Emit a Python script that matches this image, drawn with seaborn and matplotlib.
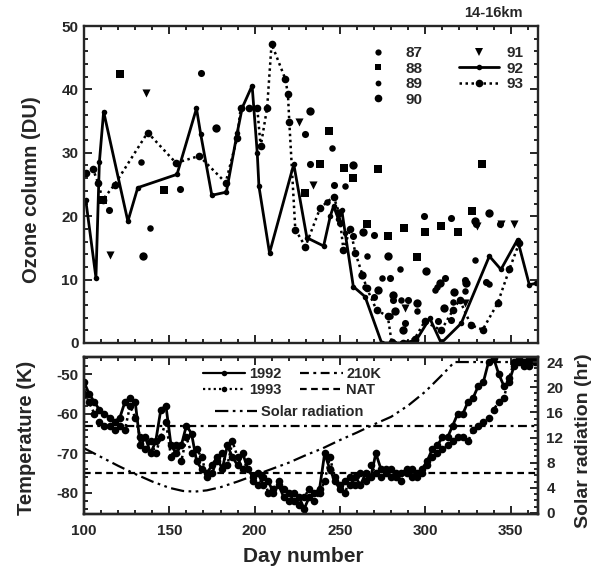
import matplotlib
matplotlib.use("Agg")
import matplotlib.pyplot as plt
from matplotlib.lines import Line2D
from matplotlib.ticker import MultipleLocator, FixedLocator
import seaborn as sns

# ---------------- Top panel: ozone column 14-16 km ----------------
day_92 = [101, 107, 109, 111.5, 125.7, 131.5, 154.5, 165.9, 168.4, 174.9,
          183.4, 189.8, 192.7, 198.5, 201.5, 202.5, 208.7, 222.9, 230.6, 240.4,
          244.3, 246.2, 249.1, 251, 253, 257.8, 264.7, 274.4, 288, 294.8,
          302.6, 309.3, 321, 337.5, 344.3, 354, 360.9, 364.7]
o3_92 = [22.6, 10.3, 28.5, 36.5, 19.2, 24.5, 26.6, 37.0, 32.9, 23.3,
         23.8, 33.2, 37.1, 40.6, 30.0, 24.7, 14.2, 28.2, 16.6, 15.3,
         20.0, 21.6, 19.5, 21.0, 17.4, 8.9, 7.3, 0.0, 0.0, 0.5,
         3.9, 0.0, 3.1, 13.7, 11.6, 16.3, 9.2, 9.4]

day_93 = [101.4, 105.3, 108.2, 111, 118, 137.3, 153.9, 167.5, 183, 189.8,
          191.8, 196.6, 201.5, 203.5, 207.3, 209.9, 218, 219.5, 220.3, 223.8,
          229.7, 238.4, 246.2, 249.5, 252, 256, 259, 265.6, 271.4, 278,
          280.2, 287, 293.8, 299.6, 309.3, 316.2, 320.1, 326.8, 333.6, 342.4,
          349.2, 355]
o3_93 = [26.8, 27.4, 25.3, 22.6, 25.0, 33.2, 28.4, 29.5, 25.3, 32.4,
         37.1, 37.1, 37.1, 31.0, 37.1, 47.2, 41.6, 39.2, 34.8, 17.9,
         15.2, 21.3, 23.1, 20.5, 14.7, 18.0, 14.2, 8.7, 5.2, 4.2,
         0.2, 0.0, 0.7, 3.4, 2.0, 5.2, 6.8, 2.8, 2.1, 6.3,
         11.6, 15.8]

day_87 = [114.4, 156.2, 168.8, 229.7, 232.2, 246.2, 250, 257.8, 270, 270,
          279.2, 281.2, 288, 290, 299.3, 307.4, 311.3, 315.2, 315.2, 323,
          329.5, 335.6, 344]
o3_87 = [21.0, 24.3, 42.6, 33.0, 28.3, 24.9, 18.9, 16.8, 17.0, 7.3,
         10.2, 6.8, 3.1, 6.8, 20.0, 3.4, 10.2, 19.7, 3.6, 10.0,
         18.7, 9.7, 18.7]

day_88 = [111, 120.8, 146.7, 229.7, 238.4, 243.7, 252.6, 257.8, 266, 272.4,
          278.3, 287.2, 295.2, 300, 309, 319, 327.2, 333.2]
o3_88 = [22.6, 42.4, 24.1, 23.6, 28.3, 33.4, 27.6, 26.0, 18.8, 27.4,
         16.8, 18.2, 13.5, 17.5, 18.4, 17.5, 20.8, 28.2]

day_89 = [133.5, 138.7, 242.3, 245.2, 252, 253, 264.7, 265.6, 274.4, 279.2,
          285, 286, 295, 305.5, 307, 316, 323, 328.8, 337]
o3_89 = [28.5, 18.2, 22.2, 30.8, 14.6, 24.7, 8.9, 13.8, 10.2, 4.2,
         11.6, 6.8, 5.0, 8.4, 8.9, 6.5, 8.2, 13.1, 9.3]

day_90 = [134.4, 177.6, 232.6, 257.8, 262.7, 263.7, 272.4, 278.3, 281, 282.2,
          287, 295, 300.6, 308.4, 311, 317, 324, 328.8, 337.1]
o3_90 = [13.8, 33.9, 36.6, 28.0, 10.8, 17.5, 8.4, 13.7, 7.6, 5.0,
         2.1, 6.3, 11.4, 9.4, 5.5, 8.0, 9.5, 19.2, 20.5]

day_91 = [115, 136.4, 225.8, 234, 249, 288, 323, 330, 344.4, 352.1]
o3_91 = [13.9, 39.5, 34.8, 25.0, 20.5, 5.5, 6.3, 18.5, 18.7, 18.7]

top_labels = ["87", "88", "89", "90", "91", "92", "93"]

# ---------------- Bottom panel: temperature & solar radiation ----------------
temp_day = [100, 103, 106, 109, 112, 115, 118, 121, 124, 127,
            130, 133, 136, 139, 142, 145, 148, 151, 154, 157,
            160, 163, 166, 169, 172, 175, 178, 181, 184, 187,
            190, 193, 196, 199, 202, 205, 208, 211, 214, 217,
            220, 223, 226, 229, 232, 235, 238, 241, 244, 247,
            250, 253, 256, 259, 262, 265, 268, 271, 274, 277,
            280, 283, 286, 289, 292, 295, 298, 301, 304, 307,
            310, 313, 316, 319, 322, 325, 328, 331, 334, 337,
            340, 343, 346, 349, 352, 355, 358, 361, 364]
temp_1992 = [-52, -55, -57, -59, -60, -61, -62, -61, -57, -56,
             -57, -68, -66, -70, -67, -59, -58, -68, -70, -68,
             -63, -65, -72, -74, -75, -73, -71, -74, -68, -71,
             -73, -70, -74, -76, -75, -78, -77, -80, -78, -81,
             -80, -82, -81, -84, -81, -80, -79, -70, -74, -77,
             -79, -77, -78, -76, -78, -75, -76, -70, -74, -75,
             -74, -76, -75, -74, -76, -75, -74, -72, -69, -68,
             -66, -66, -63, -60, -60, -57, -56, -53, -52, -47,
             -46, -50, -53, -52, -48, -47, -48, -46, -47]
temp_1993 = [-55, -57, -60, -62, -63, -63, -64, -63, -64, -58,
             -61, -66, -69, -67, -70, -66, -62, -71, -68, -72,
             -66, -70, -69, -71, -76, -75, -72, -70, -73, -67,
             -71, -74, -72, -77, -78, -76, -80, -79, -77, -79,
             -82, -80, -83, -81, -79, -82, -80, -77, -71, -76,
             -78, -80, -76, -78, -75, -77, -73, -75, -76, -74,
             -76, -75, -77, -75, -74, -76, -75, -73, -71, -70,
             -69, -68, -67, -66, -66, -67, -64, -63, -62, -61,
             -59, -57, -56, -51, -47, -46, -47, -48, -46]

solar_day = [100, 110, 120, 130, 140, 150, 158, 165, 172, 180,
             190, 200, 210, 220, 230, 240, 250, 260, 270, 280,
             290, 300, 310, 317, 330, 345, 366]
solar_hr = [10.3, 8.9, 7.5, 6.2, 5.0, 4.0, 3.5, 3.4, 3.6, 4.1,
            5.0, 6.0, 7.0, 8.0, 9.2, 10.3, 11.6, 12.8, 14.1, 15.3,
            17.1, 19.3, 22.0, 24.0, 24.0, 24.0, 24.0]

T_210K = -63.15
T_NAT = -75.0
bottom_labels = ["1992", "1993", "210K", "NAT", "Solar radiation"]

# ---------------- Styling ----------------
sns.set_style("ticks")
plt.rcParams["font.family"] = ["Liberation Sans", "DejaVu Sans"]
plt.rcParams["font.weight"] = "bold"
plt.rcParams["axes.unicode_minus"] = False
plt.rcParams["axes.linewidth"] = 1.7

K = "black"
W, H = 603, 572
fig = plt.figure(figsize=(W / 100, H / 100), dpi=100)
fig.patch.set_facecolor("white")

L, R = 84, 538
ax1 = fig.add_axes([L / W, 1 - 343 / H, (R - L) / W, (343 - 26) / H])
ax2 = fig.add_axes([L / W, 1 - 514 / H, (R - L) / W, (514 - 357) / H])
ax3 = ax2.twinx()

DOT = (0, (1, 1.4))
DASHDOT = (0, (4, 2, 1.3, 2))
DASHED = (0, (3, 2))
SOLAR = (0, (6, 2, 1.2, 2, 1.2, 2))

# --- top panel ---
sns.lineplot(x=day_92, y=o3_92, ax=ax1, color=K, linewidth=2.0, marker="o",
             markersize=4, markeredgewidth=0, markeredgecolor=K,
             estimator=None, sort=False, legend=False)
sns.lineplot(x=day_93, y=o3_93, ax=ax1, color=K, linewidth=1.8, linestyle=DOT,
             marker="o", markersize=5.5, markeredgewidth=0, markeredgecolor=K,
             estimator=None, sort=False, legend=False)
sns.scatterplot(x=day_87, y=o3_87, ax=ax1, color=K, marker="o", s=26, linewidth=0, legend=False)
sns.scatterplot(x=day_88, y=o3_88, ax=ax1, color=K, marker="s", s=30, linewidth=0, legend=False)
sns.scatterplot(x=day_89, y=o3_89, ax=ax1, color=K, marker="o", s=22, linewidth=0, legend=False)
sns.scatterplot(x=day_90, y=o3_90, ax=ax1, color=K, marker="o", s=36, linewidth=0, legend=False)
sns.scatterplot(x=day_91, y=o3_91, ax=ax1, color=K, marker="v", s=34, linewidth=0, legend=False)

ax1.set_xlim(100, 366)
ax1.set_ylim(0, 50)
ax1.xaxis.set_major_locator(MultipleLocator(50))
ax1.xaxis.set_minor_locator(MultipleLocator(10))
ax1.yaxis.set_major_locator(MultipleLocator(10))
ax1.yaxis.set_minor_locator(MultipleLocator(2))
ax1.tick_params(which="both", direction="in", top=True, right=True, width=1.4,
                labelbottom=False, labelsize=11, pad=4)
ax1.tick_params(which="major", length=6)
ax1.tick_params(which="minor", length=3)
ax1.set_xlabel("")
ax1.set_ylabel("")

top_handles = [
    Line2D([], [], ls="none", marker="o", ms=4.5, color=K, mew=0),
    Line2D([], [], ls="none", marker="s", ms=4.5, color=K, mew=0),
    Line2D([], [], ls="none", marker="o", ms=4.2, color=K, mew=0),
    Line2D([], [], ls="none", marker="o", ms=5.5, color=K, mew=0),
    Line2D([], [], ls="none", marker="v", ms=5.5, color=K, mew=0),
    Line2D([], [], color=K, lw=2.0, marker="o", ms=4, mew=0),
    Line2D([], [], color=K, lw=1.8, ls=DOT, marker="o", ms=5.5, mew=0),
]
ax1.legend(top_handles, top_labels, ncol=2, loc="upper left",
           bbox_to_anchor=(358 / W, 1 - 46 / H), bbox_transform=fig.transFigure,
           frameon=False, prop={"weight": "bold", "size": 11}, numpoints=1,
           handlelength=2.6, handletextpad=0.5, columnspacing=2.4,
           labelspacing=0.1, borderpad=0, borderaxespad=0)

# --- bottom panel ---
sns.lineplot(x=temp_day, y=temp_1992, ax=ax2, color=K, linewidth=2.0, marker="o",
             markersize=5.5, markeredgewidth=0, markeredgecolor=K,
             estimator=None, sort=False, legend=False)
sns.lineplot(x=temp_day, y=temp_1993, ax=ax2, color=K, linewidth=1.8, linestyle=DOT,
             marker="o", markersize=5.5, markeredgewidth=0, markeredgecolor=K,
             estimator=None, sort=False, legend=False)
ax2.axhline(T_210K, color=K, lw=1.6, ls=DASHDOT)
ax2.axhline(T_NAT, color=K, lw=1.6, ls=DASHED)

sns.lineplot(x=solar_day, y=solar_hr, ax=ax3, color=K, linewidth=1.6, linestyle=SOLAR,
             estimator=None, sort=False, legend=False)

ax2.set_xlim(100, 366)
ax2.set_ylim(-85.3, -45.7)
ax3.set_ylim(-0.16, 24.8)
ax2.xaxis.set_major_locator(MultipleLocator(50))
ax2.xaxis.set_minor_locator(MultipleLocator(10))
ax2.yaxis.set_major_locator(FixedLocator([-80, -70, -60, -50]))
ax2.yaxis.set_minor_locator(MultipleLocator(2))
ax3.yaxis.set_major_locator(MultipleLocator(4))
ax3.yaxis.set_minor_locator(MultipleLocator(1))
ax2.tick_params(which="both", direction="in", top=True, right=False, width=1.4, labelsize=11)
ax2.tick_params(axis="x", pad=7)
ax2.tick_params(axis="y", pad=4)
ax2.tick_params(which="major", length=6)
ax2.tick_params(which="minor", length=3)
ax3.tick_params(which="both", direction="in", width=1.4, labelsize=11, pad=6)
ax3.tick_params(which="major", length=6)
ax3.tick_params(which="minor", length=3)
for a in (ax2, ax3):
    a.set_xlabel("")
    a.set_ylabel("")
for a in (ax1, ax2, ax3):
    for lab in a.get_xticklabels() + a.get_yticklabels():
        lab.set_fontweight("bold")

h1992 = Line2D([], [], color=K, lw=1.6, marker="o", ms=4, mew=0)
h1993 = Line2D([], [], color=K, lw=1.6, ls=DOT, marker="o", ms=4, mew=0)
h210 = Line2D([], [], color=K, lw=1.6, ls=DASHDOT)
hnat = Line2D([], [], color=K, lw=1.6, ls=DASHED)
hsol = Line2D([], [], color=K, lw=1.6, ls=SOLAR)
leg_b = ax3.legend([h1992, h1993, h210, hnat], bottom_labels[:4], ncol=2, loc="upper left",
                   bbox_to_anchor=(203 / W, 1 - 367 / H), bbox_transform=fig.transFigure,
                   frameon=False, prop={"weight": "bold", "size": 10.5}, numpoints=1,
                   handlelength=2.9, handletextpad=0.25, columnspacing=1.3,
                   labelspacing=0.12, borderpad=0, borderaxespad=0)
ax3.add_artist(leg_b)
ax3.legend([hsol], [bottom_labels[4]], loc="upper left",
           bbox_to_anchor=(215 / W, 1 - 405 / H), bbox_transform=fig.transFigure,
           frameon=False, prop={"weight": "bold", "size": 10.5},
           handlelength=2.9, handletextpad=0.25, borderpad=0, borderaxespad=0)

# --- text labels ---
fig.text(32 / W, 1 - 190 / H, "Ozone column (DU)", rotation=90, ha="center", va="center",
         fontsize=14.5, fontweight="bold")
fig.text(27 / W, 1 - 438 / H, "Temperature (K)", rotation=90, ha="center", va="center",
         fontsize=14.5, fontweight="bold")
fig.text(584 / W, 1 - 441 / H, "Solar radiation (hr)", rotation=90, ha="center", va="center",
         fontsize=14, fontweight="bold")
fig.text(303 / W, 1 - 557 / H, "Day number", ha="center", va="center",
         fontsize=15, fontweight="bold")
fig.text(493 / W, 1 - 13 / H, "14-16km", ha="center", va="center",
         fontsize=10.5, fontweight="bold")

fig.savefig("out.png", dpi=100, facecolor="white")
